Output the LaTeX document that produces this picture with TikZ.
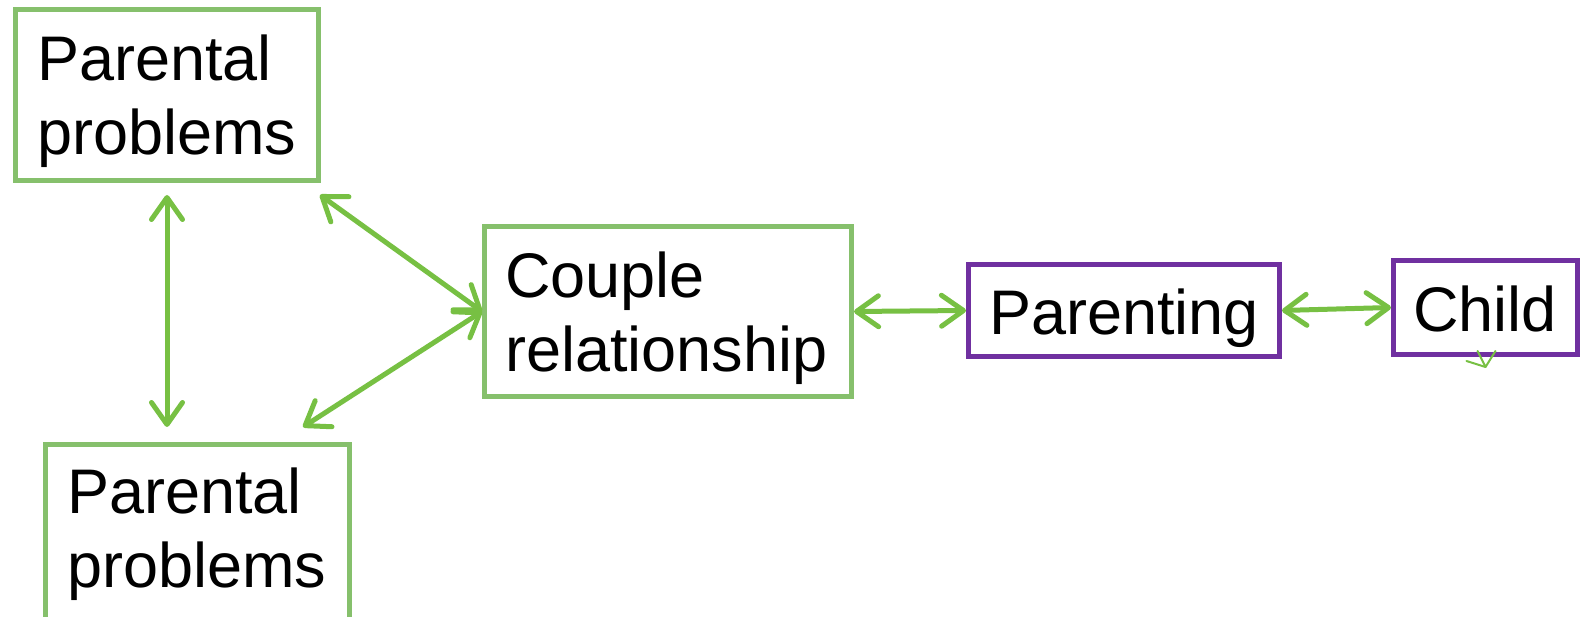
\documentclass[tikz,border=0pt]{standalone}
\usepackage{fontspec}
\setmainfont{Liberation Sans}
\usetikzlibrary{arrows.meta,calc}
\definecolor{boxgreen}{HTML}{86C06C}
\definecolor{linkgreen}{HTML}{77C043}
\definecolor{boxpurple}{HTML}{7030A0}
\tikzset{
  box/.style={draw, line width=5pt, inner sep=0pt},
  greenbox/.style={box, draw=boxgreen},
  purplebox/.style={box, draw=boxpurple},
  boxtext/.style={anchor=base west, inner sep=0pt, align=left,
    font=\fontsize{63}{74}\selectfont},
  link/.style={draw=linkgreen, line width=5pt, line cap=round,
    {Straight Barb[length=22pt,width=31pt,round]}-{Straight Barb[length=22pt,width=31pt,round]}},
  stubline/.style={draw=linkgreen, line width=2pt, line cap=round, line join=round}
}
\begin{document}
\begin{tikzpicture}[x=1pt,y=-1pt]
\useasboundingbox (0,0) rectangle (1583,617);

% boxes (the lower left box runs past the bottom edge)
\node[greenbox, minimum width=303pt, minimum height=171pt] (pp1) at (167,95) {};
\node[greenbox, minimum width=304pt, minimum height=180pt] (pp2) at (197.5,534.5) {};
\node[greenbox, minimum width=367pt, minimum height=170pt] (cr) at (668,311.5) {};
\node[purplebox, minimum width=311pt, minimum height=92pt] (pa) at (1124,310.5) {};
\node[purplebox, minimum width=184pt, minimum height=94pt] (ch) at (1485.5,307.5) {};

% labels (anchored at the baseline of the last line)
\node[boxtext] (pp1t) at (37,155) {Parental\\problems};
\node[boxtext] (pp2t) at (67,587) {Parental\\problems};
\node[boxtext] (crt) at (505,372) {Couple\\relationship};
\node[boxtext] (pat) at (989,335) {Parenting};
\node[boxtext] (cht) at (1413,332) {Child};

% connectors
\draw[link] ($(pp1.south)+(0,12)$) -- ($(pp1.south |- pp2.north)+(0,-15)$);
\draw[link] ($(pp1.south east)+(-1,12)$) -- (cr.west);
\draw[link] (cr.west) -- ($(pp2.north east)+(-49,-15)$);
\draw[link] (cr.east) -- (pa.west);
\draw[link] (pa.east) -- (ch.west);

% small stray tip below the child box
\coordinate (stub) at ($(ch.south)+(0,10)$);
\draw[stubline] ($(stub)+(-8,-16)$) -- (stub) -- ($(stub)+(10,-16)$);
\draw[stubline] ($(stub)+(-19,-6)$) -- (stub);
\end{tikzpicture}
\end{document}
